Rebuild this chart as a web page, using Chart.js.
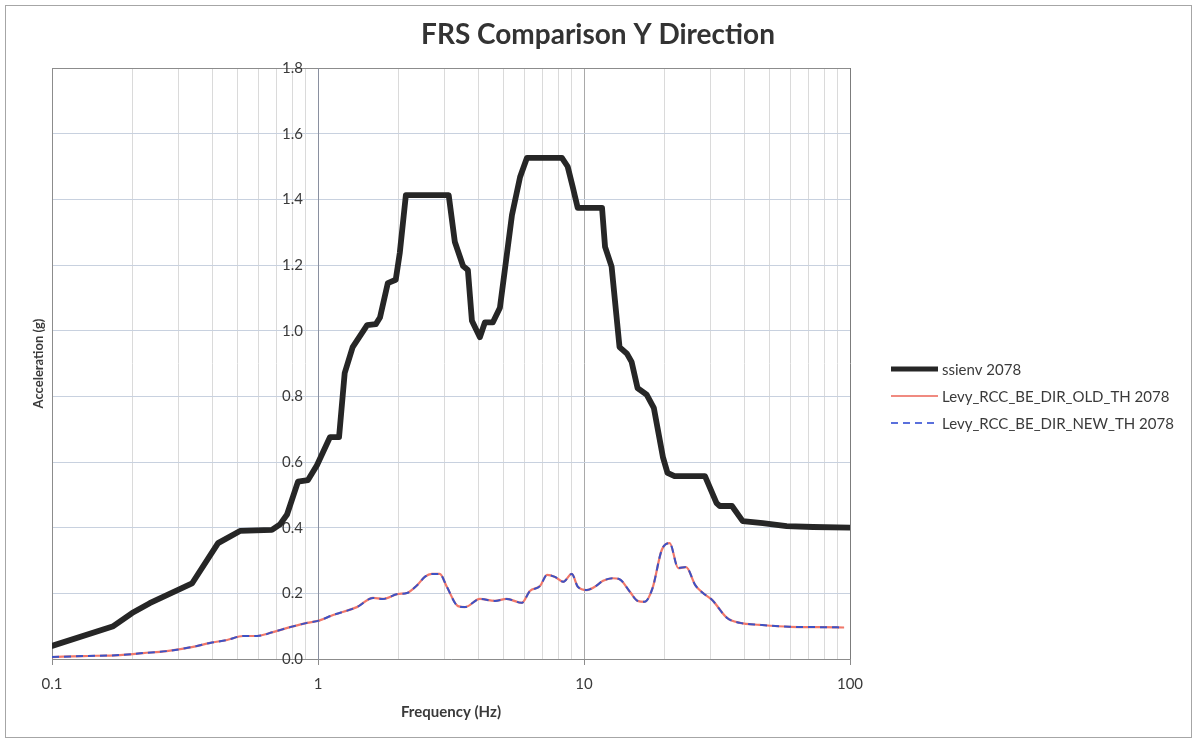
<!DOCTYPE html>
<html>
<head>
<meta charset="utf-8">
<script src="https://cdn.jsdelivr.net/npm/chart.js@4.4.1/dist/chart.umd.min.js"></script>
<style>
html,body{margin:0;padding:0;background:#fff;}
#wrap{width:1196px;height:739px;}
</style>
</head>
<body>
<div id="wrap"><canvas id="c" width="1196" height="739"></canvas></div>
<script>
// ---------- data ----------
const chartTitle = 'FRS Comparison Y Direction';
const xAxisTitle = 'Frequency (Hz)';
const yAxisTitle = 'Acceleration (g)';
const seriesLabels = ['ssienv 2078', 'Levy_RCC_BE_DIR_OLD_TH 2078', 'Levy_RCC_BE_DIR_NEW_TH 2078'];

const xMajorTicks = [0.1, 1, 10, 100];
const xTickLabels = ['0.1', '1', '10', '100'];
const xMinorMultipliers = [2, 3, 4, 5, 6, 7, 8, 9];
const yTickValues = [0, 0.2, 0.4, 0.6, 0.8, 1.0, 1.2, 1.4, 1.6, 1.8];
const yTickLabels = ['0.0', '0.2', '0.4', '0.6', '0.8', '1.0', '1.2', '1.4', '1.6', '1.8'];

const ssienvFreq = [0.1, 0.17, 0.2, 0.233, 0.336, 0.421, 0.509, 0.671, 0.72, 0.765, 0.841, 0.917, 0.991,
  1.11, 1.2, 1.26, 1.35, 1.53, 1.65, 1.71, 1.83, 1.96, 2.03, 2.14, 3.1, 3.27, 3.51, 3.66, 3.79, 4.06,
  4.24, 4.54, 4.83, 5.04, 5.36, 5.75, 6.1, 8.26, 8.68, 9.07, 9.47, 11.69, 12.0, 12.7, 13.6, 14.5, 15.1,
  15.9, 17.2, 18.3, 19.8, 20.6, 21.9, 28.5, 31.5, 32.4, 36.0, 39.5, 47, 57.8, 72.6, 100];
const ssienvAccel = [0.04, 0.10, 0.14, 0.17, 0.23, 0.353, 0.39, 0.393, 0.41, 0.44, 0.54, 0.545, 0.59,
  0.676, 0.676, 0.871, 0.95, 1.017, 1.02, 1.04, 1.145, 1.155, 1.237, 1.413, 1.413, 1.27, 1.197, 1.185, 1.03, 0.98,
  1.025, 1.025, 1.07, 1.185, 1.352, 1.468, 1.526, 1.526, 1.50, 1.438, 1.374, 1.374, 1.255, 1.195, 0.95, 0.93, 0.905,
  0.825, 0.805, 0.765, 0.615, 0.567, 0.557, 0.557, 0.475, 0.466, 0.466, 0.42, 0.414, 0.405, 0.402, 0.40];

const levyFreq = [0.1, 0.131, 0.18, 0.22, 0.27, 0.339, 0.393, 0.455, 0.523, 0.59, 0.677, 0.785, 0.91, 1.0,
  1.14, 1.40, 1.61, 1.75, 2.0, 2.16, 2.36, 2.52, 2.68, 2.87, 3.05, 3.36, 3.57, 4.06, 4.62, 5.12, 5.84,
  6.26, 6.83, 7.26, 7.78, 8.35, 9.0, 9.48, 10.25, 10.98, 11.8, 12.8, 13.6, 14.9, 15.9, 16.9, 18.1, 19.6,
  21.0, 22.6, 24.2, 26.2, 28.0, 30.3, 34.5, 38.6, 45.8, 59.3, 79, 95];
const levyOldAccel = [0.006, 0.009, 0.012, 0.018, 0.024, 0.037, 0.049, 0.058, 0.07, 0.07, 0.082, 0.097, 0.11, 0.116,
  0.134, 0.158, 0.186, 0.183, 0.198, 0.201, 0.225, 0.25, 0.259, 0.259, 0.22, 0.161, 0.158, 0.183, 0.177, 0.183, 0.171,
  0.207, 0.222, 0.256, 0.25, 0.235, 0.259, 0.22, 0.21, 0.22, 0.238, 0.246, 0.243, 0.204, 0.177, 0.174, 0.216, 0.332,
  0.353, 0.277, 0.28, 0.225, 0.201, 0.18, 0.125, 0.11, 0.104, 0.098, 0.097, 0.096];
const levyNewAccel = [0.006, 0.009, 0.012, 0.018, 0.024, 0.037, 0.049, 0.058, 0.07, 0.07, 0.082, 0.097, 0.11, 0.116,
  0.134, 0.158, 0.186, 0.183, 0.198, 0.201, 0.225, 0.25, 0.259, 0.259, 0.22, 0.161, 0.158, 0.183, 0.177, 0.183, 0.171,
  0.207, 0.222, 0.256, 0.25, 0.235, 0.259, 0.22, 0.21, 0.22, 0.238, 0.246, 0.243, 0.204, 0.177, 0.174, 0.216, 0.332,
  0.353, 0.277, 0.28, 0.225, 0.201, 0.18, 0.125, 0.11, 0.104, 0.098, 0.097, 0.096];

// ---------- chart ----------
const FONT = 'Lato, "Open Sans", "DejaVu Sans", sans-serif';
const TXT = '#3a3a3a';

const xGridValues = [];
for (let d = 0; d < xMajorTicks.length - 1; d++) {
  xGridValues.push(xMajorTicks[d]);
  for (const m of xMinorMultipliers) xGridValues.push(parseFloat((m * xMajorTicks[d]).toPrecision(6)));
}
xGridValues.push(xMajorTicks[xMajorTicks.length - 1]);

const pts = (xs, ys) => xs.map((x, i) => ({x: x, y: ys[i]}));

const framePlugin = {
  id: 'frame',
  beforeDraw(chart) {
    const ctx = chart.ctx;
    ctx.save();
    ctx.fillStyle = '#ffffff';
    ctx.fillRect(0, 0, chart.width, chart.height);
    ctx.strokeStyle = '#a6a6a6';
    ctx.lineWidth = 1;
    ctx.strokeRect(5.5, 5.5, chart.width - 10, chart.height - 7);
    ctx.restore();
  }
};

const legendPlugin = {
  id: 'sideLegend',
  afterDraw(chart) {
    const ctx = chart.ctx;
    const area = chart.chartArea;
    const x0 = area.right + 41, x1 = area.right + 88, tx = area.right + 92;
    const rowY = [369, 396, 423];
    ctx.save();
    chart.data.datasets.forEach((ds, i) => {
      const y = rowY[i];
      ctx.beginPath();
      ctx.strokeStyle = ds.legendColor || ds.borderColor;
      ctx.lineWidth = Math.min(ds.borderWidth, 5);
      ctx.setLineDash(ds.borderDash || []);
      ctx.moveTo(x0, y);
      ctx.lineTo(x1, y);
      ctx.stroke();
      ctx.setLineDash([]);
      ctx.fillStyle = TXT;
      ctx.font = '15px ' + FONT;
      ctx.textBaseline = 'middle';
      ctx.textAlign = 'left';
      ctx.fillText(ds.label, tx, y + 1);
    });
    ctx.restore();
  }
};

new Chart(document.getElementById('c'), {
  type: 'line',
  data: {
    datasets: [
      {
        label: seriesLabels[0],
        data: pts(ssienvFreq, ssienvAccel),
        borderColor: '#262626',
        borderWidth: 5.8,
        borderJoinStyle: 'round',
        borderCapStyle: 'round',
        pointRadius: 0,
        tension: 0,
        order: 0
      },
      {
        label: seriesLabels[1],
        data: pts(levyFreq, levyOldAccel),
        borderColor: '#f0786a',
        legendColor: '#f08a80',
        borderWidth: 2.2,
        pointRadius: 0,
        cubicInterpolationMode: 'monotone',
        order: 2
      },
      {
        label: seriesLabels[2],
        data: pts(levyFreq, levyNewAccel),
        borderColor: '#3d52c4',
        legendColor: '#5a70dc',
        borderWidth: 2,
        borderDash: [7, 5],
        pointRadius: 0,
        cubicInterpolationMode: 'monotone',
        order: 1
      }
    ]
  },
  options: {
    responsive: false,
    devicePixelRatio: 1,
    animation: false,
    events: [],
    layout: {padding: {left: 6, right: 6, top: 0, bottom: 0}},
    plugins: {
      legend: {display: false},
      tooltip: {enabled: false},
      title: {
        display: true,
        text: chartTitle,
        color: '#333333',
        font: {family: FONT, size: 28, weight: 'bold'},
        padding: {top: 18.2, bottom: 16.2}
      }
    },
    scales: {
      x: {
        type: 'logarithmic',
        position: 'bottom',
        min: 0.1,
        max: 100,
        afterBuildTicks: (s) => { s.ticks = xGridValues.map(v => ({value: v, major: xMajorTicks.includes(v)})); },
        afterFit: (s) => { s.height = 80; },
        ticks: {
          autoSkip: false,
          maxRotation: 0,
          padding: 10,
          color: TXT,
          font: {family: FONT, size: 15},
          callback: (v) => { const i = xMajorTicks.indexOf(v); return i >= 0 ? xTickLabels[i] : ''; }
        },
        grid: {
          lineWidth: 1,
          drawTicks: true,
          tickLength: 6,
          color: (c) => {
            const v = c.tick && c.tick.value;
            if (v === 0.1) return '#8c8c8c';
            if (v === 1) return '#8a90a0';
            if (v === 10) return '#a9a9a9';
            if (v === 100) return '#7c7c7c';
            return '#dadada';
          },
          tickColor: (c) => (c.tick && xMajorTicks.includes(c.tick.value)) ? '#8c8c8c' : 'rgba(0,0,0,0)'
        },
        border: {display: true, color: '#8c8c8c', width: 1},
        title: {
          display: true,
          text: xAxisTitle,
          color: TXT,
          font: {family: FONT, size: 15, weight: 'bold'},
          padding: {top: 0, bottom: 18}
        }
      },
      y: {
        type: 'linear',
        position: {x: 1},
        min: 0,
        max: 1.8,
        afterBuildTicks: (s) => { s.ticks = yTickValues.map(v => ({value: v})); },
        ticks: {
          color: TXT,
          font: {family: FONT, size: 15},
          // the axis sits at x = 1; em space + space keep the labels clear of the axis line
          callback: (v, i) => yTickLabels[i] + '\u2003 '
        },
        grid: {
          drawTicks: false,
          lineWidth: 1,
          color: (c) => (c.tick && c.tick.value >= 1.79) ? '#8c8c8c' : '#c8d1df'
        },
        border: {display: true, color: '#8a90a0', width: 1}
      },
      yL: {
        type: 'linear',
        position: 'left',
        min: 0,
        max: 1,
        afterFit: (s) => { s.width = 46; },
        ticks: {display: false},
        grid: {display: false, drawTicks: false},
        border: {display: true, color: '#8c8c8c', width: 1},
        title: {
          display: true,
          text: yAxisTitle,
          color: TXT,
          font: {family: FONT, size: 13, weight: 'bold'},
          padding: {top: 25, bottom: 0}
        }
      },
      yR: {
        type: 'linear',
        position: 'right',
        min: 0,
        max: 1,
        afterFit: (s) => { s.width = 340; },
        ticks: {display: false},
        grid: {display: false, drawTicks: false},
        border: {display: false}
      }
    }
  },
  plugins: [framePlugin, legendPlugin]
});
</script>
</body>
</html>
